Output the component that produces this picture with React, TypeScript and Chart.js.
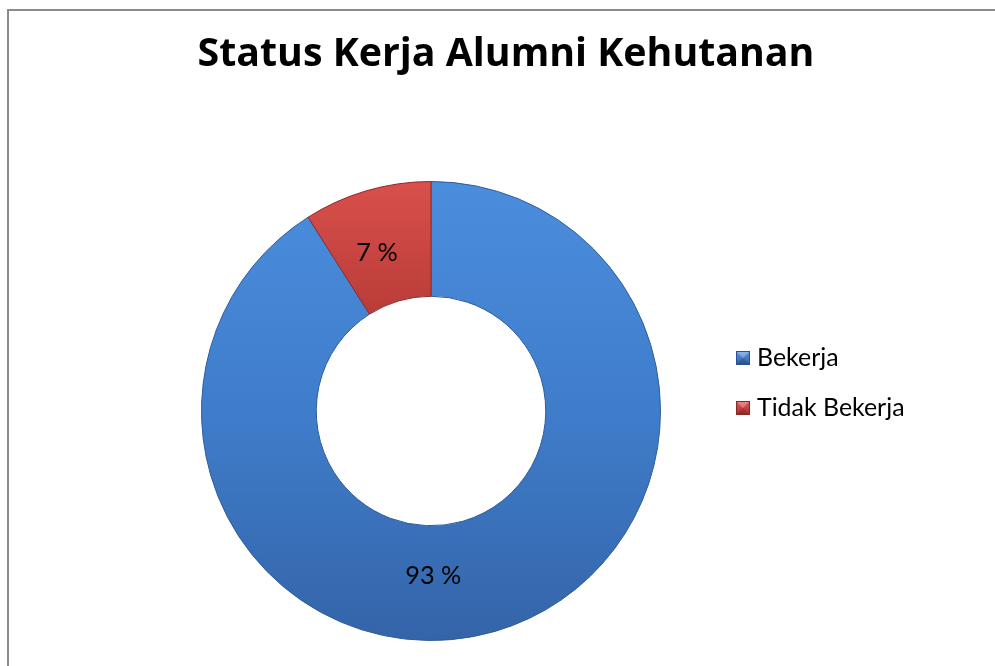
import React, { useEffect, useRef } from "react";
import { Chart, registerables } from "chart.js";

Chart.register(...registerables);

// ---- data ----
const categories = ["Bekerja", "Tidak Bekerja"];
const sliceShares = [91, 9]; // angular share of the ring
const labelTexts = ["93 %", "7 %"]; // data-label text shown on the ring
const titleText = "Status Kerja Alumni Kehutanan";

// ---- style ----
const W = 995;
const H = 666;
const TITLE_FAMILY = "'Open Sans', 'Noto Sans', sans-serif";
const UI_FAMILY = "Lato, 'Open Sans', sans-serif";
const blueStops = ["#4B8DDD", "#3F7DCB", "#3464A8"];
const redStops = ["#D9504C", "#B83B37"];
const sliceBorders = ["#2F5C9A", "#8E2C29"];
const labelAlong = [0.547, 0.42];
const labelAcross = [0.44, 0.46];

function measure(text: string, font: string) {
  const c = document.createElement("canvas").getContext("2d")!;
  c.font = font;
  return c.measureText(text).width;
}

function fitSize(text: string, family: string, weight: string, target: number) {
  return (100 * target) / measure(text, `${weight} 100px ${family}`);
}

function makeMarker(top: string, bottom: string, edge: string) {
  const s = 14;
  const cv = document.createElement("canvas");
  cv.width = s;
  cv.height = s;
  const c = cv.getContext("2d")!;
  const g = c.createLinearGradient(0, 0, 0, s);
  g.addColorStop(0, top);
  g.addColorStop(1, bottom);
  c.fillStyle = g;
  c.fillRect(0, 0, s, s);
  c.fillStyle = "rgba(255,255,255,0.28)";
  c.beginPath();
  c.moveTo(0, 0);
  c.lineTo(s, 0);
  c.lineTo(s / 2, s / 2);
  c.closePath();
  c.fill();
  c.fillStyle = "rgba(0,0,0,0.15)";
  c.beginPath();
  c.moveTo(0, s);
  c.lineTo(s, s);
  c.lineTo(s / 2, s / 2);
  c.closePath();
  c.fill();
  c.strokeStyle = edge;
  c.lineWidth = 1;
  c.strokeRect(0.5, 0.5, s - 1, s - 1);
  return cv;
}

export default function App() {
  const ref = useRef<HTMLCanvasElement | null>(null);

  useEffect(() => {
    if (!ref.current) return;

    const titleSize = fitSize(titleText, TITLE_FAMILY, "bold", 617);
    const legendSize = fitSize("Tidak Bekerja", UI_FAMILY, "normal", 142) * 1.04;
    const labelSize = fitSize("93 %", UI_FAMILY, "normal", 56);

    const chartTop = 181;
    const chartBottom = 641;
    const titleLH = titleSize * 1.2;
    const titleMid = 55;
    const titlePadTop = titleMid - titleLH / 2;
    const titlePadBottom = chartTop - titlePadTop - titleLH;

    const rowStep = 50;
    const legPad = rowStep - legendSize;
    const markerCenterX = 741;
    const textStartX = 755;
    const psw = Math.max(1, 2 * (textStartX - markerCenterX - legendSize / 2));
    const cursorX = markerCenterX - psw / 2;
    const legendLeft = cursorX - legPad;
    const ringCenterX = 430;
    const padLeft = 2 * ringCenterX - legendLeft;
    const longest = Math.max(
      ...categories.map((t) => measure(t, `normal ${legendSize}px ${UI_FAMILY}`))
    );
    const legendWidth = legPad + psw + legendSize / 2 + longest + 10;
    const padRight = Math.max(0, W - legendLeft - legendWidth - 2);
    const titleCenterX = 506;
    const titleShiftX = titleCenterX - (padLeft + W - padRight) / 2;
    const legendNudgeY = 358 - (chartTop + chartBottom - legPad - legendSize) / 2;

    const markers = [
      makeMarker("#5B9BE8", "#2C5C9E", "#2A5290"),
      makeMarker("#E05A56", "#A3302D", "#8A2624"),
    ];

    const nudgePlugin = {
      id: "layoutNudge",
      afterLayout(chart: any) {
        const lg = chart.legend;
        if (lg) {
          lg.top += legendNudgeY;
          lg.bottom += legendNudgeY;
        }
        const tt = chart.titleBlock;
        if (tt) {
          tt.left += titleShiftX;
          tt.right += titleShiftX;
        }
      },
    };

    const ringLabels = {
      id: "ringLabels",
      afterDatasetsDraw(chart: any) {
        const meta = chart.getDatasetMeta(0);
        const c = chart.ctx;
        c.save();
        c.font = `normal ${labelSize}px ${UI_FAMILY}`;
        c.fillStyle = "#000";
        c.textAlign = "center";
        c.textBaseline = "middle";
        meta.data.forEach((arc: any, i: number) => {
          const p = arc.getProps(
            ["x", "y", "startAngle", "endAngle", "innerRadius", "outerRadius"],
            true
          );
          const a = p.startAngle + (p.endAngle - p.startAngle) * labelAlong[i];
          const r = p.innerRadius + (p.outerRadius - p.innerRadius) * labelAcross[i];
          c.fillText(labelTexts[i], p.x + Math.cos(a) * r, p.y + Math.sin(a) * r);
        });
        c.restore();
      },
    };

    const chart = new Chart(ref.current, {
      type: "doughnut",
      data: {
        labels: categories,
        datasets: [
          {
            data: sliceShares,
            backgroundColor: (ctx: any) => {
              const area = ctx.chart.chartArea;
              if (!area) return ctx.dataIndex === 0 ? blueStops[1] : redStops[0];
              const g = ctx.chart.ctx.createLinearGradient(0, area.top, 0, area.bottom);
              if (ctx.dataIndex === 0) {
                g.addColorStop(0, blueStops[0]);
                g.addColorStop(0.5, blueStops[1]);
                g.addColorStop(1, blueStops[2]);
              } else {
                g.addColorStop(0, redStops[0]);
                g.addColorStop(0.3, redStops[1]);
                g.addColorStop(1, redStops[1]);
              }
              return g;
            },
            borderColor: sliceBorders,
            borderWidth: 1,
          },
        ],
      },
      options: {
        responsive: false,
        animation: false,
        cutout: "50%",
        layout: {
          padding: { top: 0, left: padLeft, right: padRight, bottom: H - chartBottom },
        },
        plugins: {
          tooltip: { enabled: false },
          title: {
            display: true,
            text: titleText,
            color: "#000",
            font: { family: TITLE_FAMILY, weight: "bold", size: titleSize, lineHeight: 1.2 },
            padding: { top: titlePadTop, bottom: titlePadBottom },
          },
          legend: {
            position: "right",
            fullSize: false,
            labels: {
              color: "#000",
              font: { family: UI_FAMILY, size: legendSize },
              padding: legPad,
              usePointStyle: true,
              pointStyleWidth: psw,
              generateLabels: (ch: any) => {
                const base = (Chart as any).overrides.doughnut.plugins.legend.labels.generateLabels(ch);
                return base.map((it: any, i: number) => ({ ...it, pointStyle: markers[i] }));
              },
            },
          },
        },
      },
      plugins: [nudgePlugin, ringLabels],
    } as any);

    return () => chart.destroy();
  }, []);

  return (
    <div
      style={{
        position: "fixed",
        left: 0,
        top: 0,
        width: W,
        height: H,
        overflow: "hidden",
        background: "#fff",
      }}
    >
      <canvas ref={ref} width={W} height={H} style={{ position: "absolute", left: 0, top: 0 }} />
      <div
        style={{
          position: "absolute",
          left: 7,
          top: 9,
          width: W + 20,
          height: H + 20,
          border: "2px solid #8c8c8c",
          pointerEvents: "none",
        }}
      />
    </div>
  );
}
